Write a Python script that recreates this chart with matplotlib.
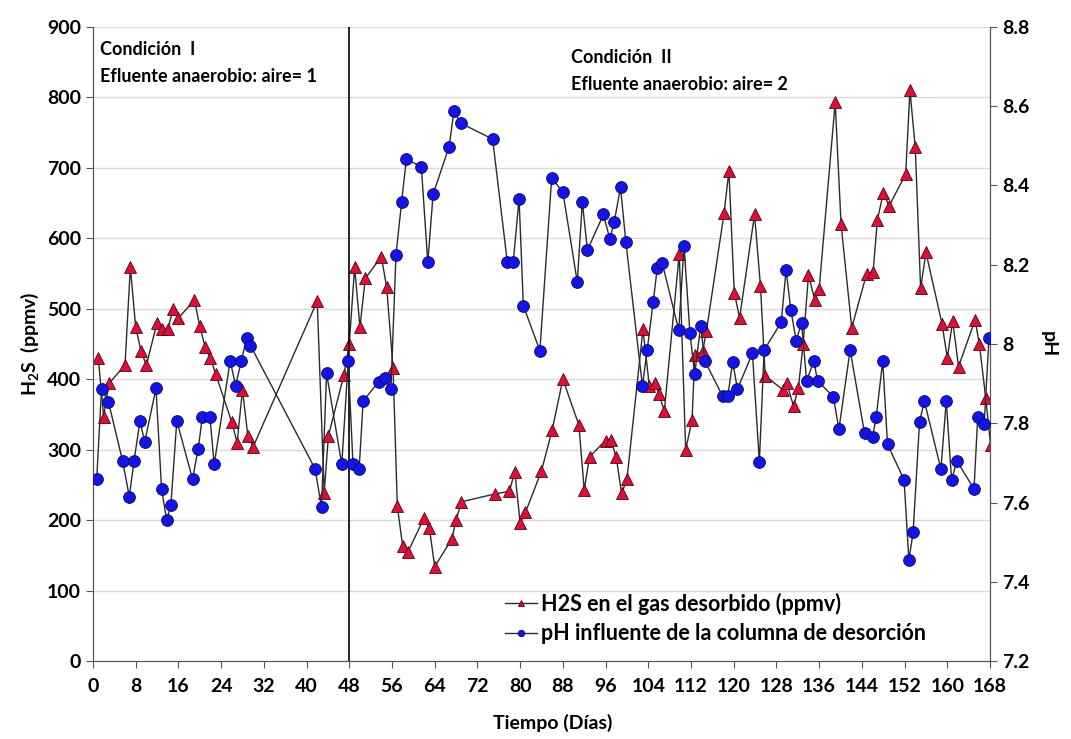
import numpy as np
import matplotlib
matplotlib.use("Agg")
import matplotlib.pyplot as plt
from matplotlib.ticker import FuncFormatter

plt.rcParams['font.family'] = ['Lato', 'DejaVu Sans']
plt.rcParams['font.weight'] = 'bold'
plt.rcParams['mathtext.fontset'] = 'custom'
plt.rcParams['mathtext.rm'] = 'Lato:bold'
plt.rcParams['mathtext.default'] = 'rm'

# H2S en el gas desorbido (ppmv)
dias_h2s = [1, 2, 3, 6, 7, 8, 9, 10, 12, 13, 14, 15, 16, 19, 20, 21, 22, 23,
            26, 27, 28, 29, 30, 42, 43.3, 44.1, 47, 48, 49, 50, 51, 54, 55,
            56.2, 57, 58, 59, 62, 63, 64, 67.2, 68, 69, 75.2, 78, 79, 80, 81,
            84, 86, 88, 91, 92, 93, 96, 97, 98, 99, 100, 103, 104.2, 105.3,
            106, 107, 109.8, 111, 112.2, 112.7, 114.2, 114.9, 118.2, 119.1,
            120.1, 121.1, 123.9, 125, 125.9, 129.2, 129.9, 131.2, 132.1, 133,
            134, 135.2, 136, 139, 140.1, 142.1, 144.9, 146.1, 146.9, 148,
            149.1, 152.2, 153, 154, 155, 156, 159, 160, 161, 162.1, 165.2,
            166, 167.2, 168.1]
h2s = [430, 347, 394, 420, 559, 474, 440, 420, 480, 471, 471, 499, 487, 512,
       475, 446, 430, 407, 339, 310, 385, 320, 304, 511, 239, 320, 406, 450,
       559, 474, 543, 574, 531, 416, 220, 163, 155, 203, 189, 134, 173, 200,
       226, 237, 241, 269, 196, 211, 270, 328, 400, 335, 243, 290, 313, 314,
       289, 238, 258, 471, 390, 395, 379, 355, 578, 300, 342, 434, 440, 469,
       636, 696, 523, 487, 634, 533, 405, 385, 395, 362, 387, 450, 548, 512,
       528, 793, 620, 473, 550, 552, 626, 664, 646, 691, 810, 729, 529, 580,
       479, 430, 483, 418, 484, 450, 373, 307]

# pH influente de la columna de desorcion
dias_ph = [0.7, 1.6, 2.9, 5.55, 6.8, 7.7, 8.8, 9.7, 11.8, 12.85, 13.8, 14.6,
           15.7, 18.65, 19.7, 20.5, 21.9, 22.7, 25.7, 26.7, 27.8, 28.8, 29.5,
           41.6, 42.8, 43.75, 46.6, 47.8, 48.7, 49.85, 50.6, 53.5, 54.7, 55.8,
           56.75, 57.8, 58.7, 61.5, 62.7, 63.7, 66.7, 67.6, 68.9, 74.85, 77.6,
           78.7, 79.8, 80.6, 83.7, 85.9, 88.0, 90.7, 91.65, 92.6, 95.6, 96.8,
           97.6, 98.8, 99.8, 102.9, 103.8, 104.9, 105.7, 106.6, 109.7, 110.7,
           111.8, 112.7, 113.8, 114.6, 117.9, 118.9, 119.8, 120.7, 123.5,
           124.8, 125.7, 128.9, 129.8, 130.7, 131.7, 132.7, 133.65, 135.0,
           135.7, 138.65, 139.7, 141.8, 144.5, 146.0, 146.7, 147.9, 148.8,
           151.9, 152.8, 153.6, 154.8, 155.7, 158.8, 159.8, 160.8, 161.8,
           165.0, 165.7, 166.9, 167.8]
ph = [7.659, 7.886, 7.854, 7.705, 7.615, 7.705, 7.806, 7.753, 7.888, 7.634,
      7.556, 7.594, 7.806, 7.659, 7.735, 7.817, 7.817, 7.696, 7.958, 7.895,
      7.958, 8.016, 7.996, 7.685, 7.588, 7.926, 7.696, 7.957, 7.696, 7.685,
      7.856, 7.905, 7.913, 7.886, 8.225, 8.358, 8.467, 8.447, 8.206, 8.378,
      8.498, 8.588, 8.557, 8.517, 8.206, 8.206, 8.366, 8.097, 7.983, 8.418,
      8.384, 8.156, 8.358, 8.237, 8.327, 8.265, 8.307, 8.395, 8.257, 7.895,
      7.985, 8.105, 8.193, 8.205, 8.035, 8.248, 8.027, 7.924, 8.046, 7.957,
      7.869, 7.869, 7.955, 7.886, 7.977, 7.703, 7.985, 8.055, 8.187, 8.086,
      8.008, 8.054, 7.907, 7.957, 7.907, 7.867, 7.785, 7.985, 7.775, 7.766,
      7.817, 7.957, 7.747, 7.657, 7.455, 7.525, 7.804, 7.856, 7.684, 7.856,
      7.657, 7.705, 7.634, 7.817, 7.797, 8.014]

fig = plt.figure(figsize=(10.71, 7.39), dpi=100)
ax = fig.add_axes([0.0868, 0.1055, 0.8376, 0.858])
ax2 = ax.twinx()

linea = '#2b2b2b'
l1, = ax.plot(dias_h2s, h2s, color=linea, lw=1.0, marker='^', ms=8,
              mfc='#d8103a', mec='#5a0010', mew=0.6, zorder=3,
              label='H2S en el gas desorbido (ppmv)')
l2, = ax2.plot(dias_ph, ph, color=linea, lw=1.0, marker='o', ms=8.5,
               mfc='#1414e6', mec='#0a0a60', mew=0.6, zorder=3,
               label='pH influente de la columna de desorción')

ax.set_xlim(0, 168)
ax.set_ylim(0, 900)
ax2.set_ylim(7.2, 8.8)
ax.set_xticks(np.arange(0, 169, 8))
ax.set_yticks(np.arange(0, 901, 100))
ax2.set_yticks(np.arange(7.2, 8.81, 0.2))
ax2.yaxis.set_major_formatter(FuncFormatter(lambda v, p: '%g' % round(v, 1)))

ax.yaxis.grid(True, color='#d9d9d9', lw=1.0)
ax.set_axisbelow(True)
for a in (ax, ax2):
    a.spines['top'].set_visible(False)
    for s in ('left', 'right', 'bottom'):
        a.spines[s].set_color('#555555')
    a.tick_params(labelsize=14, direction='out', length=5, color='#555555')
ax.tick_params(axis='x', pad=7)

ax.axvline(48, color='black', lw=1.2, zorder=4)

ax.set_xlabel('Tiempo (Días)', fontsize=14, fontweight='bold')
ax.xaxis.set_label_coords(0.513, -0.083)
ax.set_ylabel('H$_2$S  (ppmv)', fontsize=14, fontweight='bold', labelpad=4)
ax2.set_ylabel('pH', fontsize=14, fontweight='bold', rotation=270, labelpad=20)

ax.text(1.3, 868, 'Condición  I', fontsize=13, fontweight='bold', va='center')
ax.text(1.3, 829, 'Efluente anaerobio: aire= 1', fontsize=13,
        fontweight='bold', va='center')
ax.text(89.5, 857, 'Condición  II', fontsize=13, fontweight='bold',
        va='center')
ax.text(89.5, 819, 'Efluente anaerobio: aire= 2', fontsize=13,
        fontweight='bold', va='center')

ax2.legend(handles=[l1, l2], loc='upper left', bbox_to_anchor=(0.459, 0.108),
           frameon=False, prop={'size': 15.5, 'weight': 'bold'},
           markerscale=0.55, handlelength=1.5, handletextpad=0.2,
           borderpad=0, borderaxespad=0, labelspacing=0.4)

fig.savefig('out.png', dpi=100)
